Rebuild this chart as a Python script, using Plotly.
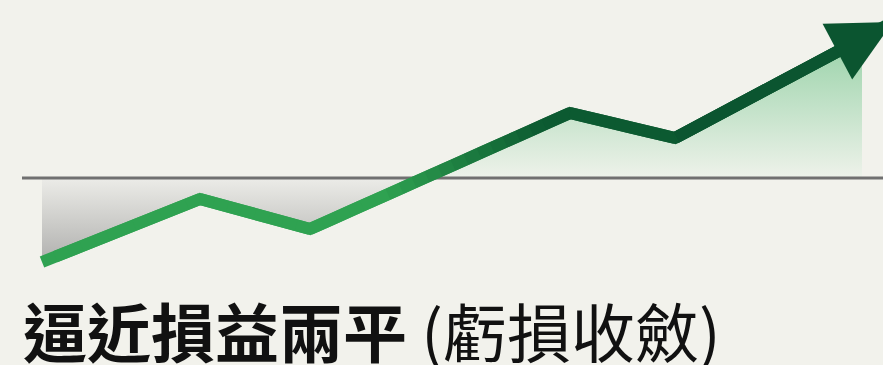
import numpy as np
import plotly.graph_objects as go

# ---- data (y = profit/loss, 0 = break-even) ----
x_vals = [0.42, 2.00, 3.10, 5.70, 6.75, 8.93]
y_vals = [-8.4, -2.1, -5.1, 6.5, 4.0, 15.6]
BREAK_EVEN = 0.0
TITLE = '逼近損益兩平'
SUBTITLE = '(虧損收斂)'

# ---- style constants ----
BG = '#f2f2ec'
BRIGHT = np.array([0x2f, 0xa2, 0x51])
DARK = np.array([0x0c, 0x5a, 0x31])
FILL_END_X = 8.62
BASE_X0, BASE_X1 = 0.22, 8.83
X_RANGE = [0, 8.83]
Y_RANGE = [-18.7, 17.8]

px = np.array(x_vals, dtype=float)
py = np.array(y_vals, dtype=float)

# crossing of break-even line
ci = next(i for i in range(len(py) - 1) if (py[i] - BREAK_EVEN) * (py[i + 1] - BREAK_EVEN) < 0)
cross_x = px[ci] + (BREAK_EVEN - py[ci]) * (px[ci + 1] - px[ci]) / (py[ci + 1] - py[ci])

fig = go.Figure()

# grey (loss) area
gx = list(px[:ci + 1]) + [cross_x, px[0]]
gy = list(py[:ci + 1]) + [BREAK_EVEN, BREAK_EVEN]
fig.add_trace(go.Scatter(x=gx, y=gy, fill='toself', mode='lines', line=dict(width=0),
                         fillgradient=dict(type='vertical',
                                           colorscale=[[0, '#b0b0ae'], [1, '#ecece8']]),
                         hoverinfo='skip', showlegend=False))

# green (profit) area up to FILL_END_X
y_end = py[-2] + (FILL_END_X - px[-2]) * (py[-1] - py[-2]) / (px[-1] - px[-2])
vx = [cross_x] + list(px[ci + 1:-1]) + [FILL_END_X, FILL_END_X, cross_x]
vy = [BREAK_EVEN] + list(py[ci + 1:-1]) + [y_end, BREAK_EVEN, BREAK_EVEN]
fig.add_trace(go.Scatter(x=vx, y=vy, fill='toself', mode='lines', line=dict(width=0),
                         fillgradient=dict(type='vertical',
                                           colorscale=[[0, '#eef2ea'], [1, '#98d2a8']]),
                         hoverinfo='skip', showlegend=False))

# break-even line
fig.add_trace(go.Scatter(x=[BASE_X0, BASE_X1], y=[BREAK_EVEN, BREAK_EVEN], mode='lines',
                         line=dict(color='#707070', width=3), hoverinfo='skip', showlegend=False))

# gradient stroke: split the polyline into short pieces for rendering only
pts = [(px[0], py[0])]
for i in range(len(px) - 1):
    dist = np.hypot((px[i + 1] - px[i]) * 100, (py[i + 1] - py[i]) * 10)
    n = max(1, int(dist // 14))
    for k in range(1, n + 1):
        t = k / n
        pts.append((px[i] + t * (px[i + 1] - px[i]), py[i] + t * (py[i + 1] - py[i])))


def col_at(x):
    t = np.clip((x - 3.9) / (5.5 - 3.9), 0, 1)
    c = (BRIGHT * (1 - t) + DARK * t).astype(int)
    return 'rgb(%d,%d,%d)' % tuple(c)


for k in range(len(pts) - 2):
    seg = pts[k:k + 3]
    fig.add_trace(go.Scatter(x=[p[0] for p in seg], y=[p[1] for p in seg], mode='lines',
                             line=dict(color=col_at(seg[1][0]), width=12),
                             hoverinfo='skip', showlegend=False))

# arrow head
fig.add_annotation(x=px[-1], y=py[-1], ax=px[-2], ay=py[-2], xref='x', yref='y',
                   axref='x', ayref='y', text='', showarrow=True, arrowhead=2,
                   arrowsize=1.05, arrowwidth=12, arrowcolor='#0b5530', standoff=0)

# caption
fig.add_annotation(x=0.024, y=0.099, xref='paper', yref='paper', xanchor='left', yanchor='middle',
                   text=f'<b>{TITLE}</b> {SUBTITLE}', showarrow=False,
                   font=dict(family='Noto Sans CJK TC', size=64, color='#111111'))

fig.update_layout(width=883, height=365, margin=dict(l=0, r=0, t=0, b=0),
                  paper_bgcolor=BG, plot_bgcolor=BG, showlegend=False)
fig.update_xaxes(range=X_RANGE, visible=False, showgrid=False, zeroline=False, fixedrange=True)
fig.update_yaxes(range=Y_RANGE, visible=False, showgrid=False, zeroline=False, fixedrange=True)

fig.write_html('out.html', config={'displayModeBar': False})
